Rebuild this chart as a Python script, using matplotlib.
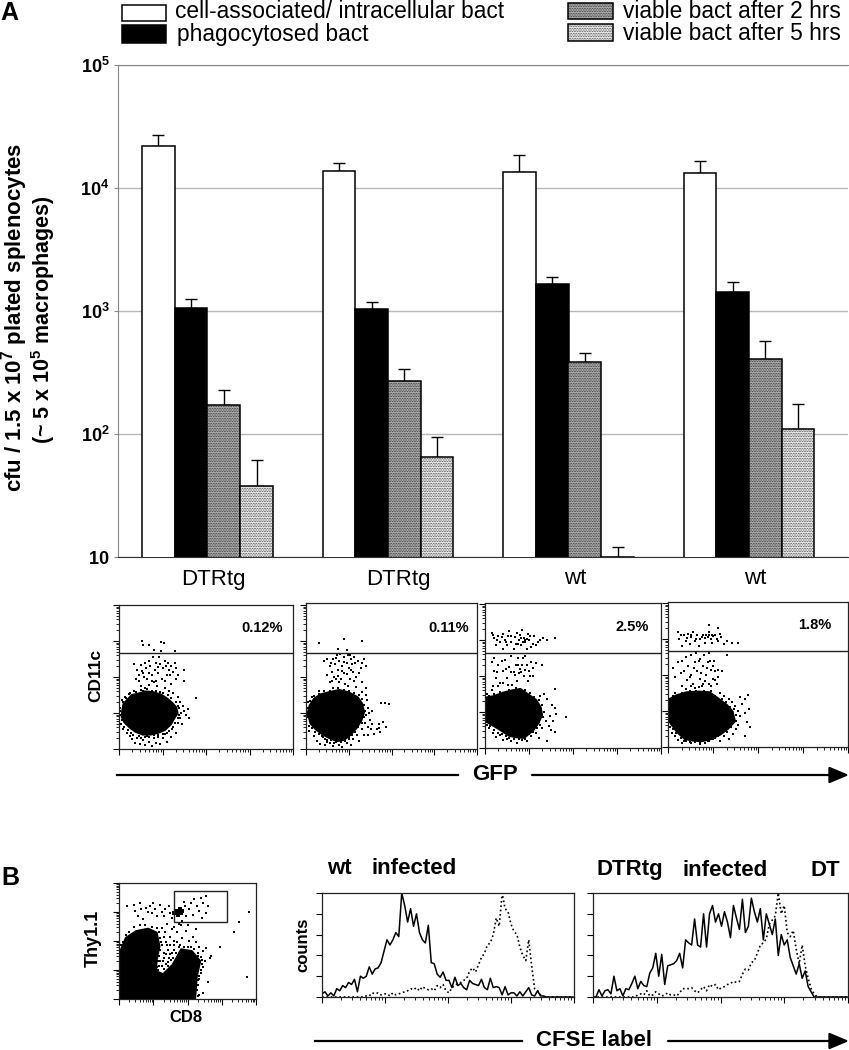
import numpy as np
import matplotlib
matplotlib.use('Agg')
import matplotlib.pyplot as plt
from matplotlib.patches import Rectangle, Polygon

plt.rcParams['font.family'] = ['Liberation Sans', 'DejaVu Sans']
plt.rcParams['mathtext.fontset'] = 'custom'
plt.rcParams['mathtext.rm'] = 'Liberation Sans'
plt.rcParams['mathtext.bf'] = 'Liberation Sans:bold'
plt.rcParams['hatch.linewidth'] = 0.3

W, H = 849, 1050

# bar chart values (cfu), one list per group
groups = ['DTRtg', 'DTRtg', 'wt', 'wt']
series_names = ['cell-associated/ intracellular bact', 'phagocytosed bact',
                'viable bact after 2 hrs', 'viable bact after 5 hrs']
cell_assoc = [22000, 13700, 13500, 13200]
phago = [1050, 1030, 1650, 1420]
viable_2h = [172, 270, 385, 405]
viable_5h = [38, 65, 10, 110]
cell_assoc_top = [27000, 16000, 18500, 16500]
phago_top = [1250, 1180, 1900, 1720]
viable_2h_top = [229, 335, 455, 570]
viable_5h_top = [62, 94, 12, 175]
y_ticks = [10, 100, 1000, 10000, 100000]
y_tick_labels = ['$\\mathbf{10}$', '$\\mathbf{10^{2}}$', '$\\mathbf{10^{3}}$', '$\\mathbf{10^{4}}$', '$\\mathbf{10^{5}}$']

percent_labels = ['0.12%', '0.11%', '2.5%', '1.8%']

# flow panels, decades 0-4 on both axes: outline of the solid core and the single dots
p1_core = [(0.09,1.05),(0.12,1.25),(0.2,1.35),(0.3,1.48),(0.45,1.52),(0.6,1.58),(0.78,1.56),(0.95,1.5),(1.08,1.4),(1.2,1.28),(1.3,1.15),(1.33,1.0),(1.25,0.85),(1.18,0.7),(1.05,0.55),(0.9,0.47),(0.72,0.42),(0.55,0.42),(0.38,0.5),(0.25,0.62),(0.14,0.75),(0.08,0.9)]
p2_core = [(0.06,1.0),(0.1,1.2),(0.2,1.38),(0.35,1.5),(0.55,1.56),(0.78,1.62),(1.0,1.55),(1.2,1.42),(1.3,1.25),(1.34,1.02),(1.28,0.8),(1.16,0.58),(1.02,0.4),(0.88,0.27),(0.72,0.24),(0.56,0.32),(0.4,0.42),(0.25,0.55),(0.12,0.72)]
p3_core = [(0.0,1.38),(0.2,1.42),(0.42,1.52),(0.62,1.58),(0.8,1.62),(1.0,1.45),(1.15,1.32),(1.25,1.12),(1.28,0.92),(1.2,0.7),(1.08,0.5),(0.88,0.3),(0.7,0.32),(0.55,0.36),(0.38,0.5),(0.22,0.62),(0.08,0.72),(0.0,0.82)]
p4_core = [(0.02,1.3),(0.2,1.42),(0.42,1.5),(0.68,1.52),(0.92,1.5),(1.12,1.32),(1.3,1.15),(1.42,0.98),(1.47,0.72),(1.32,0.52),(1.15,0.36),(0.95,0.24),(0.75,0.18),(0.55,0.2),(0.38,0.24),(0.22,0.42),(0.08,0.65),(0.0,0.85)]

p1_dots = [(0.53,2.99),(0.55,2.9),(0.7,2.9),(0.97,2.97),(1.03,2.94),(0.8,2.76),(0.97,2.73),(1.28,2.72),
    (0.35,2.35),(0.42,2.2),(0.45,2.05),(0.5,2.32),(0.55,2.1),(0.6,2.4),(0.62,2.25),(0.65,1.95),(0.68,2.12),(0.72,2.3),(0.75,2.05),(0.78,2.55),
    (0.8,1.85),(0.82,2.2),(0.85,2.4),(0.88,1.75),(0.9,2.1),(0.95,2.35),(0.98,1.95),(1.0,2.25),(1.05,2.45),(1.08,2.3),(1.1,2.05),(1.15,2.2),
    (1.2,2.3),(1.25,2.15),(1.3,2.25),(1.35,2.05),(1.5,2.2),(1.5,1.9),(0.5,1.75),(0.6,1.7),(1.77,1.42),
    (0.0,1.25),(0.02,1.05),(0.0,0.85),(0.04,0.7),(0.08,1.35),(0.1,0.55),(0.14,1.45),(0.18,0.45),(0.22,1.52),(0.25,0.35),(0.3,0.28),(0.35,1.6),
    (0.36,0.18),(0.42,0.3),(0.48,0.14),(0.5,1.65),(0.55,0.25),(0.6,0.1),(0.65,0.35),(0.7,0.2),(0.75,0.08),(0.8,0.3),(0.85,0.18),(0.9,0.38),
    (0.95,0.15),(1.0,0.3),(1.05,0.42),(1.1,0.2),(1.15,0.5),(1.2,0.33),(1.25,0.6),(1.3,0.45),(1.35,0.72),(1.4,0.85),(1.42,1.0),(1.45,0.7),
    (1.5,1.05),(1.48,1.2),(1.4,1.3),(1.35,1.45),(1.25,1.55),(1.15,1.62),(1.05,1.7)]
p1_halo = [(1.58,1.1),(1.3,0.95),(1.6,0.85),(1.38,1.15),(1.55,0.95),(0.03,1.15),(0.05,0.95),(0.06,0.8),(0.1,1.3),(0.12,0.62),(0.16,1.42),(0.2,0.52),(0.26,1.55),(0.28,0.45),
    (0.33,0.38),(0.4,1.58),(0.45,0.35),(0.5,0.3),(0.55,1.62),(0.6,0.32),(0.65,1.66),(0.7,0.32),(0.75,1.62),(0.8,0.38),(0.85,1.6),(0.9,0.32),(0.95,1.58),(1.0,0.42),(1.02,1.55),(1.1,0.45),
    (1.12,1.5),(1.22,0.55),(1.2,1.42),(1.28,0.72),(1.3,1.3),(1.36,1.2),(1.38,0.95),(1.35,0.85),(0.7,1.78),(0.85,1.88),(0.45,1.9),(1.2,1.8),(1.3,1.95),
    (0.4,1.95),(0.58,2.0),(0.7,2.45),(0.92,2.55),(1.12,2.4),(0.75,1.9),(1.05,1.9),(1.18,2.05),(0.52,2.18),(0.9,2.28),(1.28,2.4)]
p2_dots = [(0.88,3.05),(1.32,3.0),(0.3,2.95),(0.95,2.75),(0.75,2.78),
    (0.42,2.45),(0.5,2.5),(0.55,2.3),(0.6,2.15),(0.62,2.5),(0.68,2.35),(0.72,2.6),(0.75,2.2),(0.78,2.45),(0.8,2.65),(0.82,1.95),(0.85,2.3),
    (0.88,2.55),(0.9,2.1),(0.92,1.8),(0.95,2.4),(0.98,2.62),(1.0,2.25),(1.02,1.95),(1.05,2.5),(1.08,2.35),(1.1,2.15),(1.12,2.55),(1.15,2.4),
    (1.18,2.0),(1.22,2.45),(1.28,2.25),(1.35,2.5),(1.4,2.3),(0.55,1.85),(0.62,1.7),(0.7,1.95),(1.3,1.85),(1.4,1.7),
    (0.0,1.1),(0.02,0.9),(0.0,0.75),(0.05,1.3),(0.08,0.5),(0.14,1.45),(0.18,0.35),(0.25,0.22),(0.3,1.6),(0.32,0.15),(0.4,0.32),(0.45,0.1),
    (0.5,0.25),(0.55,0.16),(0.62,0.08),(0.7,0.2),(0.78,0.12),(0.85,0.05),(0.95,0.18),(1.0,0.32),(1.05,0.12),(1.1,0.28),(1.2,0.4),(1.25,0.22),
    (1.3,0.55),(1.35,0.4),(1.38,0.72),(1.4,0.95),(1.45,0.6),(1.45,1.15),(1.5,0.8),(1.42,1.35),(1.55,1.05),(1.52,0.55),(1.6,0.42),(1.65,0.55),
    (1.7,0.7),(1.72,0.48),(1.75,1.28),(1.85,1.28),(1.95,1.25),(1.7,0.58),(1.88,0.62),(1.8,0.75),(1.4,1.5),(1.3,1.58)]
p2_halo = [(0.03,1.15),(0.04,0.95),(0.08,0.65),(0.1,1.32),(0.14,0.58),(0.18,1.48),(0.22,0.48),(0.3,0.42),(0.38,0.35),(0.45,0.28),(0.5,0.2),(0.58,0.24),(0.65,0.18),
    (0.82,0.2),(0.92,0.22),(1.0,0.28),(1.08,0.38),(1.15,0.48),(1.22,0.6),(1.3,0.72),(1.36,0.88),(1.38,1.05),(1.36,1.22),(1.32,1.38),(1.25,1.5),(1.12,1.55),(1.0,1.62),(0.9,1.65),(0.75,1.7),
    (0.55,1.62),(0.42,1.6),(0.3,1.52),(0.48,2.05),(0.58,2.4),(0.65,2.0),(0.78,1.85),(0.88,2.42),(0.95,2.08),(1.05,2.2),(1.12,1.88),(1.25,2.1),(1.32,2.38),(0.75,2.02),(0.98,1.75),(1.18,1.72),
    (0.85,2.18),(1.02,2.62),(0.7,2.52),(0.6,1.9),(1.45,0.4),(1.55,0.7),(1.48,1.0)]
p3_dots = [(0.15,3.2),(0.2,3.05),(0.25,2.85),(0.3,3.12),(0.35,2.95),(0.4,2.75),(0.42,3.18),(0.45,3.0),(0.5,2.85),(0.52,3.1),(0.55,3.25),(0.6,2.95),
    (0.65,2.75),(0.68,3.08),(0.72,3.2),(0.75,2.9),(0.78,3.0),(0.8,3.15),(0.82,2.85),(0.85,3.28),(0.88,3.05),(0.9,3.0),(0.92,2.95),(0.95,2.75),(0.98,3.18),
    (1.0,3.0),(1.05,2.8),(1.08,2.9),(1.12,3.1),(1.2,2.95),(1.25,3.0),(1.32,3.05),(1.42,3.0),(1.58,3.05),
    (0.15,2.4),(0.2,2.15),(0.25,1.95),(0.3,2.3),(0.35,1.8),(0.4,2.15),(0.45,2.45),(0.5,1.95),(0.55,2.25),(0.6,2.55),(0.62,1.75),(0.65,2.1),(0.7,2.3),
    (0.72,1.85),(0.75,2.5),(0.8,2.2),(0.82,2.1),(0.85,2.3),(0.88,2.0),(0.9,2.55),(0.95,2.3),(0.98,1.85),(1.0,2.15),(1.05,2.4),(1.1,2.0),(1.15,2.35),(1.3,2.3),(1.6,1.65),
    (0.05,1.5),(0.15,1.6),(0.1,0.55),(0.05,0.65),(0.18,0.42),(0.25,0.3),(0.35,0.35),(0.42,0.22),(0.5,0.25),(0.6,0.2),(0.72,0.15),(0.85,0.22),(0.95,0.2),
    (1.05,0.32),(1.15,0.42),(1.22,0.28),(1.3,0.55),(1.4,0.2),(1.45,0.6),(1.5,0.5),(1.38,0.75),(1.48,0.9),(1.55,0.75),(1.6,1.1),(1.52,1.2),(1.42,1.35),
    (1.35,1.5),(1.25,1.45),(1.62,0.95),(1.85,0.85),(1.6,0.45)]
p3_halo = [(0.02,0.72),(0.12,0.62),(0.2,0.5),(0.3,0.42),(0.38,0.4),(0.48,0.32),(0.55,0.28),(0.65,0.25),(0.78,0.25),(0.9,0.25),(1.0,0.4),(1.1,0.45),(1.18,0.55),(1.25,0.65),(1.32,0.85),(1.34,1.0),
    (1.3,1.2),(1.22,1.32),(1.12,1.42),(1.02,1.52),(0.9,1.62),(0.7,1.66),(0.55,1.62),(0.35,1.55),(0.2,1.5),(0.08,1.45),(0.18,3.15),(0.28,3.0),(0.38,3.08),(0.48,2.95),(0.58,3.12),(0.7,2.88),(0.82,3.05),(0.86,2.95),(0.96,3.02),(1.02,3.12),(1.15,2.85),
    (0.2,2.5),(0.28,2.1),(0.38,2.42),(0.48,2.2),(0.52,1.75),(0.58,2.1),(0.68,2.02),(0.75,2.3),(0.78,2.08),(0.86,2.5),(0.92,2.18),(1.02,2.0),(0.4,1.8),(0.3,1.72),(0.18,1.72),(1.08,2.22)]
p4_dots = [(0.22,3.2),(0.25,3.0),(0.3,2.8),(0.35,3.1),(0.4,2.95),(0.45,3.15),(0.48,2.85),(0.52,3.05),(0.55,3.2),(0.6,2.95),(0.65,3.1),(0.68,2.8),(0.72,3.0),(0.78,3.12),
    (0.82,2.9),(0.85,3.1),(0.88,3.05),(0.9,3.4),(0.92,3.2),(0.95,3.0),(1.0,3.08),(1.05,3.1),(1.1,3.3),(1.12,2.95),(1.18,3.05),(1.25,2.85),(1.32,2.95),(1.42,2.88),(1.55,2.9),
    (0.1,2.2),(0.15,1.95),(0.22,2.35),(0.3,1.7),(0.35,2.1),(0.4,2.5),(0.42,1.85),(0.45,2.25),(0.5,2.55),(0.52,2.0),(0.55,1.75),(0.6,2.35),(0.62,2.6),(0.65,2.1),
    (0.7,1.9),(0.72,2.45),(0.75,1.7),(0.78,2.25),(0.8,2.55),(0.85,2.0),(0.88,2.35),(0.9,1.75),(0.92,2.6),(0.95,2.15),(1.0,1.9),(1.02,2.4),(1.05,2.1),(1.08,1.75),(1.12,1.95),(1.2,2.1),(1.3,2.55),(0.4,1.6),(0.6,1.65),
    (0.0,1.45),(0.02,0.7),(0.0,0.55),(0.08,0.4),(0.15,1.5),(0.15,0.3),(0.22,0.2),(0.32,0.12),(0.4,0.18),(0.5,0.1),(0.6,0.14),(0.7,0.08),(0.82,0.1),(0.92,0.16),(1.05,0.25),
    (1.15,0.18),(1.25,0.3),(1.35,0.22),(1.45,0.35),(1.3,0.42),(1.5,0.5),(1.55,0.62),(1.6,0.85),(1.55,1.0),(1.48,1.15),(1.42,1.25),(1.35,1.32),(1.25,1.42),(1.15,1.5),
    (1.65,1.2),(1.7,0.95),(1.75,0.7),(1.8,1.05),(1.82,0.55),(1.72,1.32),(1.6,1.4),(1.72,0.3),(1.78,1.45)]
p4_halo = [(0.05,0.55),(0.12,0.5),(0.18,0.38),(0.28,0.25),(0.35,0.18),(0.48,0.15),(0.6,0.18),(0.72,0.14),(0.88,0.18),(1.0,0.22),(1.1,0.3),(1.2,0.38),(1.28,0.45),(1.4,0.55),(1.5,0.72),(1.52,0.88),(1.46,1.05),(1.38,1.12),
    (1.28,1.25),(1.2,1.32),(1.05,1.42),(0.95,1.55),(0.8,1.56),(0.62,1.56),(0.48,1.55),(0.3,1.5),(0.1,1.42),(0.28,3.1),(0.42,3.02),(0.5,3.12),(0.62,3.0),(0.75,3.05),(0.82,3.02),(0.9,3.12),(0.98,3.12),(1.08,3.0),(1.15,3.15),(0.98,2.9),
    (0.28,2.05),(0.32,2.4),(0.48,1.95),(0.58,2.2),(0.68,2.4),(0.74,2.05),(0.82,1.82),(0.86,2.2),(0.94,2.4),(1.0,2.25),(1.05,1.85),(1.12,2.15),(0.78,1.75),(0.68,1.68),(0.5,1.7),(0.95,1.7)]

thy_core = [(0,0),(0,1.01),(0.07,1.70),(0.21,2.10),(0.51,2.33),(0.85,2.41),(1.09,2.28),(1.17,1.82),(1.09,1.36),(1.07,0.95),(1.29,0.84),
    (1.58,1.18),(1.82,1.70),(2.12,1.64),(2.36,1.30),(2.26,0.78),(2.21,0)]
thy_cluster = [(1.62,2.95),(1.68,3.05),(1.72,2.9),(1.75,3.0),(1.78,3.1),(1.8,2.95),(1.85,3.02),(1.72,3.0),(1.66,2.98),(1.78,2.98)]
thy_dots = [(0.22,3.2),(0.45,3.25),(0.48,3.05),(0.55,2.85),(0.6,3.3),(0.65,3.1),(0.7,2.75),(0.8,3.15),(0.85,3.0),(0.9,3.2),(0.95,2.95),(1.0,3.3),(1.05,3.1),(1.1,2.85),
    (1.2,3.25),(1.25,3.0),(1.3,2.85),(1.35,3.1),(1.45,3.2),(1.5,2.95),(1.55,2.8),(1.92,3.2),(1.95,2.85),(2.05,3.1),(2.1,3.3),(2.15,2.9),(2.2,3.45),(2.28,3.2),(2.35,3.05),(2.4,3.5),(2.45,3.3),(2.55,3.55),
    (2.6,3.2),(2.55,2.95),(2.42,2.8),(1.9,3.35),(1.85,2.7),
    (1.25,2.45),(1.35,2.3),(1.4,2.6),(1.5,2.15),(1.55,2.4),(1.6,2.0),(1.7,2.3),(1.8,2.55),(1.85,2.1),(1.95,2.35),(2.05,2.0),(2.15,2.15),(2.25,1.95),(2.35,1.8),(2.45,1.65),(2.55,1.75),(2.65,1.4),(2.7,1.5),
    (1.2,2.1),(1.25,1.85),(1.3,1.6),(1.38,1.95),(1.42,1.7),(1.45,1.4),(1.5,1.85),(1.55,1.6),(1.2,1.3),(1.25,1.15),(1.32,1.4),(1.15,1.0),(1.18,1.15),(1.42,1.15),(1.6,1.85),(1.7,1.95),(1.75,1.8),
    (2.45,1.1),(2.38,0.9),(2.35,0.7),(2.32,0.5),(2.28,0.3),(2.35,0.15),(2.45,0.2),(2.3,0.1),(2.42,1.35),(2.3,1.5),
    (3.8,3.0),(3.5,2.65),(3.35,2.3),(2.95,1.8),(3.75,0.75),(2.6,0.6),(2.45,0.2)]
thy_halo = [(1.12,1.1),(1.14,1.3),(1.16,1.5),(1.2,1.7),(1.22,1.95),(1.28,1.3),(1.3,1.05),(1.36,1.2),(1.36,1.55),(1.4,1.85),(1.44,1.28),(1.48,1.55),(1.52,1.35),(1.58,1.42),(1.62,1.7),(1.66,1.58),(1.78,1.85),(1.9,1.8),(2.0,1.8),(2.1,1.8),(2.2,1.72),(2.3,1.6),(2.4,1.45),
    (2.5,1.3),(2.42,1.2),(2.4,1.0),(2.35,0.8),(2.3,0.65),(0.12,1.95),(0.05,1.85),(0.3,2.3),(0.2,2.22),(0.45,2.5),(0.6,2.55),(0.75,2.55),(0.95,2.5),(1.1,2.45),(1.18,2.3),(1.3,2.15),(1.6,2.5),(1.75,2.6),(2.0,2.55),(2.25,2.4)]

# CFSE histograms, counts per 3 channels
wt_solid = [3,5,1,4,1,8,6,11,9,14,12,17,5,20,18,20,29,22,27,28,33,44,55,50,55,62,58,100,88,72,85,68,80,62,55,52,69,33,32,22,19,24,16,16,9,19,11,13,9,7,16,13,12,11,17,9,7,18,9,10,9,2,10,2,4,4,1,5,1,5,9,2,1,6,1,1,0,0,0,0,0,0,0,0,0,0]
wt_dotted = [0,0,0,0,0,0,0,0,0,0,0,0,0,0,0,1,1,4,3,4,2,3,3,1,4,2,3,4,5,6,8,7,9,6,10,8,7,8,6,11,9,12,6,4,9,11,13,14,16,18,25,28,24,31,38,42,50,52,60,76,68,100,85,82,70,63,60,48,40,35,55,30,8,6,2,0,0,0,0,0,0,0,0,0,0,0]
dtr_solid = [0,0,7,1,6,7,3,20,6,8,1,8,7,13,20,8,15,11,10,23,28,42,20,41,12,30,31,32,35,42,28,55,52,50,75,50,48,80,48,80,88,72,80,68,82,72,57,88,76,65,94,62,68,95,82,72,85,55,80,70,60,75,40,60,50,55,38,30,22,32,18,25,10,5,0,0,0,0,0,0,0,0,0,0,0,0]
dtr_dotted = [0,0,0,0,0,0,0,0,0,0,0,0,0,0,0,2,3,2,6,1,2,5,3,1,2,4,2,2,1,4,8,8,8,9,6,4,7,10,6,12,10,12,7,9,10,12,13,15,14,15,22,27,26,33,35,42,50,52,56,70,74,78,100,80,88,62,58,64,46,32,50,30,18,8,3,0,0,0,0,0,0,0,0,0,0,0]

fig = plt.figure(figsize=(W / 100, H / 100), dpi=100)


def px_axes(left, top, right, bottom):
    return fig.add_axes([left / W, 1 - bottom / H, (right - left) / W, (bottom - top) / H])


def log_ticks(ax, which, span):
    # decades with the usual log subdivisions, as on the cytometer plots
    major = [span * d / 4 for d in range(5)]
    minor = [span * (d + np.log10(m)) / 4 for d in range(4) for m in range(2, 10)]
    if which == 'x':
        ax.set_xticks(major)
        ax.set_xticks(minor, minor=True)
    else:
        ax.set_yticks(major)
        ax.set_yticks(minor, minor=True)


def style_flow(ax, span=4):
    log_ticks(ax, 'x', span)
    ax.tick_params(which='major', length=4, width=0.8, labelbottom=False, labelleft=False)
    ax.tick_params(which='minor', length=2, width=0.6)
    for s in ax.spines.values():
        s.set_linewidth(0.9)
        s.set_color('#222222')


# panel A bars
ax = px_axes(118, 65, 848, 557)
group_centre = np.arange(4)
bar_w = 32.7 / 180.5
ax.set_yscale('log')
ax.set_ylim(10, 100000)
ax.set_xlim((118 - 207.5) / 180.5, (848 - 207.5) / 180.5)
fills = ['white', 'black', '#a8a8a8', '#e6e6e6']
hatches = [None, None, '..........', '..........']
all_vals = [cell_assoc, phago, viable_2h, viable_5h]
all_tops = [cell_assoc_top, phago_top, viable_2h_top, viable_5h_top]
for i in range(4):
    xs = group_centre + (i - 1.5) * bar_w
    ax.bar(xs, all_vals[i], bar_w, color=fills[i], edgecolor='black', linewidth=1.1, hatch=hatches[i], zorder=3)
    up = np.array(all_tops[i]) - np.array(all_vals[i])
    ax.errorbar(xs, all_vals[i], yerr=[np.zeros(4), up], fmt='none', ecolor='black', elinewidth=1, capsize=4, capthick=1, zorder=2)
ax.set_yticks(y_ticks)
ax.set_yticklabels(y_tick_labels, fontsize=13)
ax.minorticks_off()
ax.set_yticks([], minor=True)
ax.set_xticks([])
ax.yaxis.grid(True, color='#b8b8b8', linewidth=1)
ax.set_axisbelow(True)
ax.tick_params(axis='y', length=3, color='#888888', pad=3)
ax.spines['right'].set_visible(False)
ax.spines['top'].set_color('#888888')
ax.spines['top'].set_linestyle((0, (1, 0.6)))
ax.spines['left'].set_color('#888888')
ax.spines['bottom'].set_color('#333333')

# CD11c / GFP panels
boxes = [(119, 605, 293, 749, 653), (306, 603, 477, 749, 653), (485, 603, 661, 748, 653), (668, 602, 848, 747, 651)]
cores = [p1_core, p2_core, p3_core, p4_core]
dots = [p1_dots + p1_halo, p2_dots + p2_halo, p3_dots + p3_halo, p4_dots + p4_halo]
for i, (l, t, r, b, g) in enumerate(boxes):
    a = px_axes(l, t, r, b)
    a.set_xlim(0, 4)
    a.set_ylim(0, (b - t) / 36.0)
    a.add_patch(Polygon(cores[i], closed=True, facecolor='black', edgecolor='black', linewidth=2.5, joinstyle='round'))
    xy = np.array(dots[i])
    a.scatter(xy[:, 0], xy[:, 1], s=1.1, c='black', marker='s', linewidths=0)
    a.axhline((b - g) / 36.0, color='#222222', linewidth=1)
    style_flow(a)
    log_ticks(a, 'y', 4)
    a.set_ylim(0, (b - t) / 36.0)
    a.tick_params(which='both', labelbottom=False, labelleft=False)

# Thy1.1 / CD8 panel
a = px_axes(119, 883, 256, 999)
a.set_xlim(0, 4)
a.set_ylim(0, 4)
a.add_patch(Polygon(thy_core, closed=True, facecolor='black', edgecolor='black', linewidth=2, joinstyle='round'))
xy = np.array(thy_dots + thy_halo)
a.scatter(xy[:, 0], xy[:, 1], s=1.1, c='black', marker='s', linewidths=0)
xy = np.array(thy_cluster)
a.scatter(xy[:, 0], xy[:, 1], s=10, c='black', marker='s', linewidths=0)
a.add_patch(Rectangle((1.6, 2.67), 1.55, 1.06, fill=False, edgecolor='#222222', linewidth=1))
style_flow(a)
log_ticks(a, 'y', 4)
a.tick_params(which='both', labelbottom=False, labelleft=False)

# CFSE histograms
for box, solid, dotted in [((322, 893, 574, 997), wt_solid, wt_dotted), ((593, 893, 848, 997), dtr_solid, dtr_dotted)]:
    a = px_axes(*box)
    a.set_xlim(0, 255)
    a.set_ylim(0, 100)
    a.plot(np.arange(len(dotted)) * 3, dotted, color='black', linewidth=1.2, linestyle=(0, (1, 1.6)))
    a.plot(np.arange(len(solid)) * 3, solid, color='black', linewidth=1.1)
    style_flow(a, 256)
    a.set_yticks([0, 20, 40, 60, 80, 100])
    a.tick_params(which='both', labelbottom=False, labelleft=False)

# overlay in pixel coordinates for the labels and arrows
ov = fig.add_axes([0, 0, 1, 1], zorder=10)
ov.set_xlim(0, W)
ov.set_ylim(H, 0)
ov.axis('off')
ov.patch.set_alpha(0)

legend_boxes = [(122, 5, 166, 21), (122, 25, 166, 43), (568, 3, 613, 19), (568, 24, 613, 41)]
legend_text = [(175, 12), (177, 35), (623, 11), (623, 34)]
for i in range(4):
    l, t, r, b = legend_boxes[i]
    ov.add_patch(Rectangle((l, t), r - l, b - t, facecolor=fills[i], edgecolor='black', linewidth=1.1, hatch=hatches[i]))
    ov.text(legend_text[i][0], legend_text[i][1], series_names[i], fontsize=16.4, va='center', ha='left')

ov.text(9, 13, 'A', fontsize=18, fontweight='bold', ha='center', va='center')
ov.text(10, 878, 'B', fontsize=18, fontweight='bold', ha='center', va='center')
ov.text(15, 317, 'cfu / 1.5 x $\\mathbf{10^{7}}$ plated splenocytes', fontsize=16, fontweight='bold', rotation=90, ha='center', va='center')
ov.text(43, 320, '(~ 5 x $\\mathbf{10^{5}}$ macrophages)', fontsize=15.5, fontweight='bold', rotation=90, ha='center', va='center')

label_x = [213, 398, 575, 755]
for x, name in zip(label_x, groups):
    ov.text(x, 579, name, fontsize=16, ha='center', va='center')

pct_pos = [(262, 628), (449, 628), (632, 627), (815, 625)]
for (x, y), s in zip(pct_pos, percent_labels):
    ov.text(x, y, s, fontsize=10.5, fontweight='bold', ha='center', va='center')

arrow_style = dict(arrowstyle='-|>,head_length=1.0,head_width=0.42', mutation_scale=12, color='black', linewidth=1.6, shrinkA=0, shrinkB=0)
ov.text(96, 675, 'CD11c', fontsize=12.5, fontweight='bold', rotation=90, ha='center', va='center')
ov.text(495, 775, 'GFP', fontsize=16, fontweight='bold', ha='center', va='center')
ov.plot([117, 458], [775, 775], color='black', linewidth=1.6)
ov.annotate('', xy=(849, 775), xytext=(532, 775), arrowprops=arrow_style)

ov.text(93, 938, 'Thy1.1', fontsize=13, fontweight='bold', rotation=90, ha='center', va='center')
ov.text(186, 1017, 'CD8', fontsize=12, fontweight='bold', ha='center', va='center')
ov.text(303, 945, 'counts', fontsize=12, fontweight='bold', rotation=90, ha='center', va='center')
ov.text(327, 869, 'wt', fontsize=16, fontweight='bold', ha='left', va='center')
ov.text(372, 869, 'infected', fontsize=16, fontweight='bold', ha='left', va='center')
ov.text(597, 870, 'DTRtg', fontsize=16, fontweight='bold', ha='left', va='center')
ov.text(683, 870, 'infected', fontsize=16, fontweight='bold', ha='left', va='center')
ov.text(811, 870, 'DT', fontsize=16, fontweight='bold', ha='left', va='center')
ov.text(536, 1041, 'CFSE label', fontsize=16, fontweight='bold', ha='left', va='center')
ov.plot([315, 522], [1041, 1041], color='black', linewidth=1.6)
ov.annotate('', xy=(849, 1041), xytext=(668, 1041), arrowprops=arrow_style)

fig.savefig('out.png', dpi=100)
